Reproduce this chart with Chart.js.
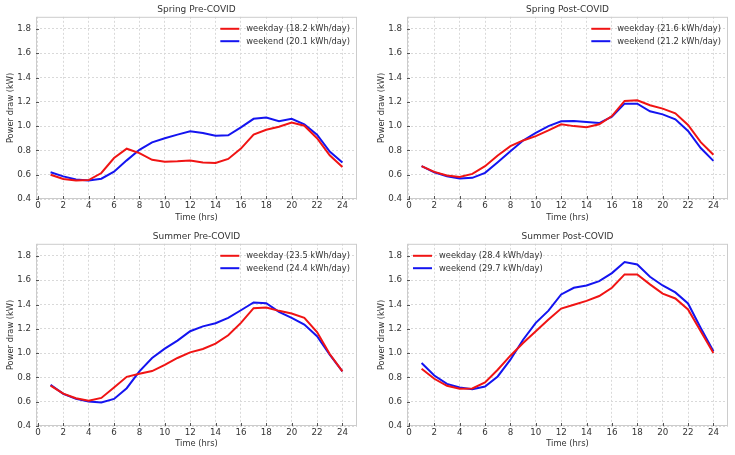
<!DOCTYPE html>
<html>
<head>
<meta charset="utf-8">
<script src="https://cdn.jsdelivr.net/npm/chart.js@4.4.1/dist/chart.umd.min.js"></script>
<style>
  body { margin: 0; background: #fff; width: 735px; height: 455px; position: relative; overflow: hidden; }
  canvas { position: absolute; }
</style>
</head>
<body>
<canvas id="c1" width="367" height="227" style="left:0;top:0"></canvas>
<canvas id="c2" width="368" height="227" style="left:367px;top:0"></canvas>
<canvas id="c3" width="367" height="228" style="left:0;top:227px"></canvas>
<canvas id="c4" width="368" height="228" style="left:367px;top:227px"></canvas>
<script>
const hours = [1, 2, 3, 4, 5, 6, 7, 8, 9, 10, 11, 12, 13, 14, 15, 16, 17, 18, 19, 20, 21, 22, 23, 24];
const xTicks = [0, 2, 4, 6, 8, 10, 12, 14, 16, 18, 20, 22, 24];
const yTicks = [0.4, 0.6, 0.8, 1.0, 1.2, 1.4, 1.6, 1.8];

const panelTitles = ["Spring Pre-COVID", "Spring Post-COVID", "Summer Pre-COVID", "Summer Post-COVID"];

const springPreWeekday = [0.60, 0.565, 0.553, 0.556, 0.614, 0.737, 0.814, 0.778, 0.723, 0.707, 0.71, 0.717, 0.70, 0.696, 0.73, 0.815, 0.93, 0.97, 0.995, 1.03, 1.003, 0.90, 0.76, 0.663];
const springPreWeekend = [0.62, 0.586, 0.56, 0.553, 0.567, 0.625, 0.718, 0.805, 0.866, 0.90, 0.93, 0.957, 0.944, 0.92, 0.924, 0.99, 1.06, 1.07, 1.04, 1.06, 1.015, 0.93, 0.79, 0.70];
const springPostWeekday = [0.67, 0.623, 0.593, 0.582, 0.607, 0.67, 0.758, 0.835, 0.882, 0.918, 0.965, 1.015, 1.0, 0.99, 1.015, 1.083, 1.207, 1.213, 1.172, 1.144, 1.105, 1.01, 0.868, 0.764];
const springPostWeekend = [0.67, 0.62, 0.587, 0.568, 0.574, 0.615, 0.703, 0.794, 0.882, 0.945, 1.0, 1.04, 1.042, 1.034, 1.025, 1.078, 1.185, 1.185, 1.122, 1.097, 1.056, 0.96, 0.82, 0.714];
const summerPreWeekday = [0.733, 0.667, 0.629, 0.609, 0.631, 0.717, 0.805, 0.83, 0.852, 0.904, 0.96, 1.006, 1.034, 1.078, 1.147, 1.249, 1.37, 1.376, 1.348, 1.326, 1.29, 1.174, 0.993, 0.849];
const summerPreWeekend = [0.739, 0.665, 0.623, 0.601, 0.593, 0.623, 0.711, 0.85, 0.96, 1.037, 1.103, 1.18, 1.22, 1.246, 1.29, 1.353, 1.417, 1.411, 1.34, 1.29, 1.235, 1.139, 0.987, 0.849];
const summerPostWeekday = [0.871, 0.789, 0.731, 0.706, 0.709, 0.758, 0.863, 0.979, 1.083, 1.18, 1.276, 1.367, 1.398, 1.43, 1.47, 1.538, 1.648, 1.648, 1.566, 1.49, 1.45, 1.359, 1.18, 1.0];
const summerPostWeekend = [0.918, 0.816, 0.747, 0.717, 0.703, 0.725, 0.808, 0.946, 1.11, 1.249, 1.35, 1.483, 1.538, 1.557, 1.593, 1.659, 1.75, 1.73, 1.629, 1.557, 1.5, 1.409, 1.207, 1.015];

const weekdayLabels = ["weekday (18.2 kWh/day)", "weekday (21.6 kWh/day)", "weekday (23.5 kWh/day)", "weekday (28.4 kWh/day)"];
const weekendLabels = ["weekend (20.1 kWh/day)", "weekend (21.2 kWh/day)", "weekend (24.4 kWh/day)", "weekend (29.7 kWh/day)"];

const FONT = "'DejaVu Sans', sans-serif";
const TEXT = "#333";
const RED = "#f01414";
const BLUE = "#1414f0";

// frame + inward tick marks like matplotlib
const framePlugin = {
  id: "frame",
  beforeDatasetsDraw(chart) {
    const { ctx, chartArea: a, scales } = chart;
    ctx.save();
    ctx.strokeStyle = "#cccccc";
    ctx.lineWidth = 1;
    ctx.strokeRect(a.left + 0.5, a.top + 0.5, a.width - 1, a.height - 1);
    ctx.strokeStyle = "#555";
    ctx.beginPath();
    xTicks.forEach((t) => {
      const x = Math.round(scales.x.getPixelForValue(t)) + 0.5;
      ctx.moveTo(x, a.bottom);
      ctx.lineTo(x, a.bottom - 3);
    });
    yTicks.forEach((t) => {
      const y = Math.round(scales.y.getPixelForValue(t)) + 0.5;
      ctx.moveTo(a.left, y);
      ctx.lineTo(a.left + 3, y);
    });
    ctx.stroke();
    ctx.restore();
  },
};

// legend inside the plot, upper right or upper left
const cornerLegend = {
  id: "cornerLegend",
  afterDraw(chart, args, opts) {
    const { ctx, chartArea: a } = chart;
    ctx.save();
    ctx.font = "8.3px " + FONT;
    ctx.textBaseline = "middle";
    const widths = chart.data.datasets.map((d) => ctx.measureText(d.label).width);
    const tw = Math.max(...widths);
    let lineX;
    if (opts.side === "left") lineX = a.left + 6;
    else lineX = a.right - 7 - tw - 7 - 19;
    chart.data.datasets.forEach((d, i) => {
      const y = a.top + 12 + i * 12.4;
      ctx.strokeStyle = d.borderColor;
      ctx.lineWidth = 2;
      ctx.beginPath();
      ctx.moveTo(lineX, y);
      ctx.lineTo(lineX + 19, y);
      ctx.stroke();
      ctx.fillStyle = TEXT;
      ctx.fillText(d.label, lineX + 26, y + 0.5);
    });
    ctx.restore();
  },
};

function makePanel(id, idx, weekday, weekend, yWidth, xHeight, padRight, yTitlePad, xTitlePad, legendSide) {
  const ctx = document.getElementById(id).getContext("2d");
  const config = {
    type: "line",
    data: {
      datasets: [
        {
          label: weekdayLabels[idx],
          data: hours.map((h, i) => ({ x: h, y: weekday[i] })),
          borderColor: RED,
          borderWidth: 2,
          pointRadius: 0,
        },
        {
          label: weekendLabels[idx],
          data: hours.map((h, i) => ({ x: h, y: weekend[i] })),
          borderColor: BLUE,
          borderWidth: 2,
          pointRadius: 0,
        },
      ],
    },
    options: {
      responsive: false,
      animation: false,
      layout: { padding: { left: 0, right: padRight, top: 0, bottom: 0 } },
      plugins: {
        legend: { display: false },
        tooltip: { enabled: false },
        title: {
          display: true,
          text: panelTitles[idx],
          fullSize: false,
          color: TEXT,
          font: { family: FONT, size: 9, weight: "normal" },
          padding: { top: 4, bottom: 2 },
        },
        cornerLegend: { side: legendSide },
      },
      scales: {
        x: {
          type: "linear",
          min: -0.15,
          max: 25.15,
          afterBuildTicks: (s) => { s.ticks = xTicks.map((v) => ({ value: v })); },
          afterFit: (s) => { s.height = xHeight; },
          ticks: { color: TEXT, font: { family: FONT, size: 8.7 }, padding: 2, maxRotation: 0 },
          grid: { color: "#d9d9d9", drawTicks: false },
          border: { display: false, dash: [2, 2] },
          title: { display: true, text: "Time (hrs)", color: TEXT, font: { family: FONT, size: 8.3 }, padding: { top: 0, bottom: xTitlePad } },
        },
        y: {
          min: 0.4,
          max: 1.9,
          afterBuildTicks: (s) => { s.ticks = yTicks.map((v) => ({ value: v })); },
          afterFit: (s) => { s.width = yWidth; },
          ticks: { color: TEXT, font: { family: FONT, size: 8.7 }, padding: 5, callback: (v) => v.toFixed(1) },
          grid: { color: "#d9d9d9", drawTicks: false },
          border: { display: false, dash: [2, 2] },
          title: { display: true, text: "Power draw (kW)", color: TEXT, font: { family: FONT, size: 8.3 }, padding: { top: yTitlePad, bottom: 0 } },
        },
      },
    },
    plugins: [framePlugin, cornerLegend],
  };
  return new Chart(ctx, config);
}

makePanel("c1", 0, springPreWeekday, springPreWeekend, 36, 28, 10, 5.5, 4, "right");
makePanel("c2", 1, springPostWeekday, springPostWeekend, 40, 28, 7, 10, 4, "right");
makePanel("c3", 2, summerPreWeekday, summerPreWeekend, 36, 29, 10, 5.5, 6, "right");
makePanel("c4", 3, summerPostWeekday, summerPostWeekend, 40, 29, 7, 10, 6, "left");
</script>
</body>
</html>
